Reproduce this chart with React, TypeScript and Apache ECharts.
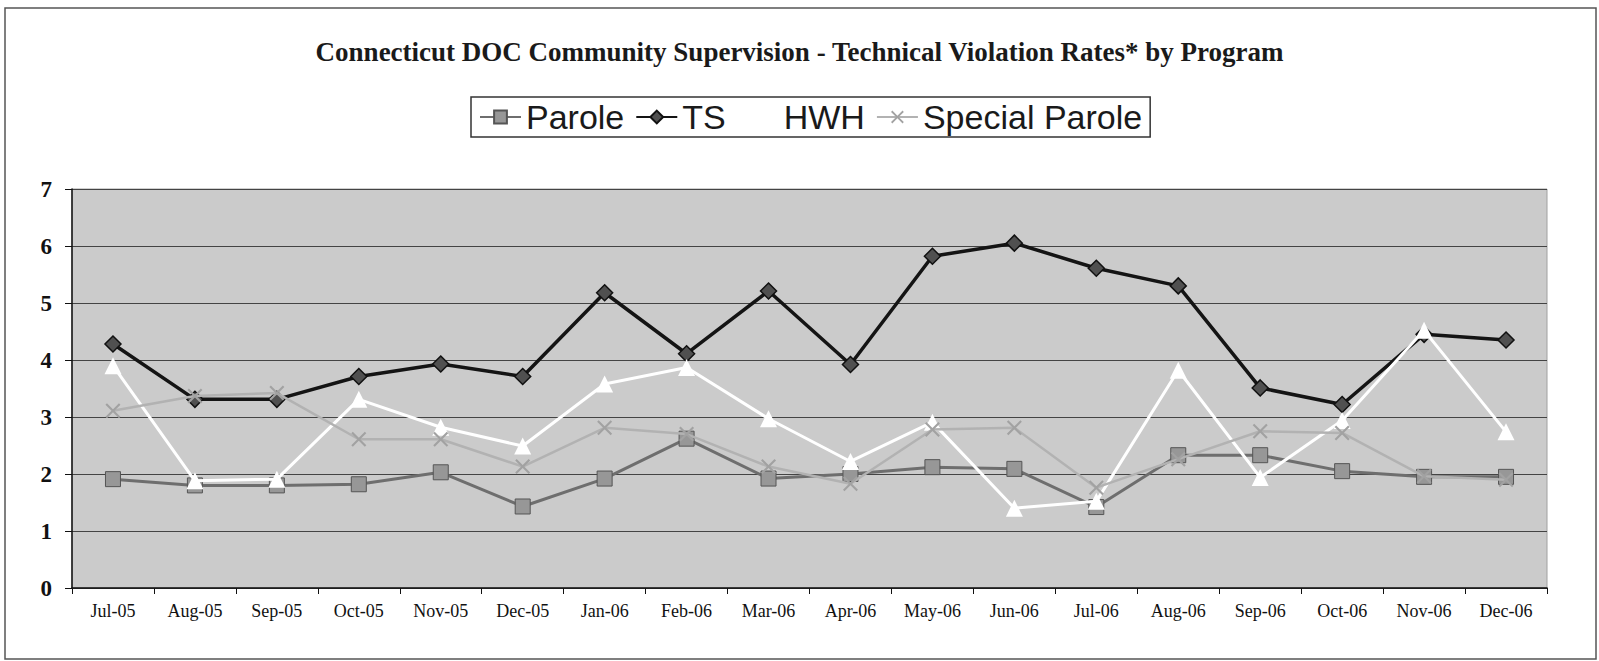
import React, { useEffect, useRef } from "react";
import * as echarts from "echarts";

const categories = [
  "Jul-05", "Aug-05", "Sep-05", "Oct-05", "Nov-05", "Dec-05",
  "Jan-06", "Feb-06", "Mar-06", "Apr-06", "May-06", "Jun-06",
  "Jul-06", "Aug-06", "Sep-06", "Oct-06", "Nov-06", "Dec-06",
];
const parole = [1.91, 1.8, 1.8, 1.82, 2.03, 1.43, 1.92, 2.62, 1.92, 2.0, 2.12, 2.09, 1.42, 2.33, 2.33, 2.05, 1.95, 1.95];
const ts = [4.28, 3.31, 3.31, 3.71, 3.93, 3.71, 5.18, 4.11, 5.21, 3.92, 5.82, 6.05, 5.61, 5.3, 3.51, 3.22, 4.45, 4.35];
const hwh = [3.9, 1.88, 1.91, 3.31, 2.82, 2.49, 3.58, 3.87, 2.97, 2.22, 2.91, 1.4, 1.52, 3.82, 1.94, 2.94, 4.52, 2.74];
const specialParole = [3.11, 3.37, 3.42, 2.61, 2.61, 2.13, 2.81, 2.7, 2.13, 1.83, 2.78, 2.81, 1.76, 2.26, 2.75, 2.72, 1.96, 1.9];
const yTicks = [0, 1, 2, 3, 4, 5, 6, 7];

const titleText = "Connecticut DOC Community Supervision - Technical Violation Rates* by Program";

const X_SYMBOL = "path://M0,1 L1,0 L5,4 L9,0 L10,1 L6,5 L10,9 L9,10 L5,6 L1,10 L0,9 L4,5 Z";

export default function App() {
  const ref = useRef<HTMLDivElement>(null);
  useEffect(() => {
    if (!ref.current) return;
    const chart = echarts.init(ref.current, null, { renderer: "svg" });
    chart.setOption({
      animation: false,
      backgroundColor: "#ffffff",
      title: {
        text: titleText,
        left: "center",
        top: 33,
        textStyle: {
          fontFamily: "Liberation Serif",
          fontWeight: "bold",
          fontSize: 27,
          color: "#1a1a1a",
        },
      },
      legend: {
        left: 471,
        top: 97,
        padding: [3, 8, 3, 8],
        itemGap: 11,
        itemWidth: 41,
        itemHeight: 16,
        borderColor: "#333",
        borderWidth: 1.5,
        borderRadius: 0,
        textStyle: {
          fontFamily: "Liberation Sans",
          fontSize: 34,
          color: "#1a1a1a",
        },
        data: ["Parole", "TS", "HWH", "Special Parole"],
      },
      graphic: [
        {
          type: "rect",
          shape: { x: 5, y: 8, width: 1591, height: 651 },
          style: { fill: "none", stroke: "#555", lineWidth: 1.5 },
          silent: true,
        },
      ],
      grid: {
        left: 72,
        right: 52,
        top: 189,
        bottom: 73,
        show: true,
        backgroundColor: "#cbcbcb",
        borderColor: "#a0a0a0",
        borderWidth: 1,
      },
      xAxis: {
        type: "category",
        data: categories,
        boundaryGap: true,
        axisLine: { show: true, lineStyle: { color: "#111", width: 1.5 } },
        axisTick: { show: true, alignWithLabel: false, length: 6, lineStyle: { color: "#111" } },
        axisLabel: {
          fontFamily: "Liberation Serif",
          fontSize: 18,
          color: "#111",
          margin: 14,
          interval: 0,
        },
        splitLine: { show: false },
      },
      yAxis: {
        type: "value",
        min: yTicks[0],
        max: yTicks[yTicks.length - 1],
        interval: 1,
        axisLine: { show: true, lineStyle: { color: "#111", width: 1.5 } },
        axisTick: { show: true, length: 7, lineStyle: { color: "#111" } },
        axisLabel: {
          fontFamily: "Liberation Serif",
          fontWeight: "bold",
          fontSize: 23,
          color: "#111",
          margin: 20,
        },
        splitLine: { show: true, lineStyle: { color: "#444", width: 1 } },
      },
      series: [
        {
          name: "Parole",
          type: "line",
          data: parole,
          symbol: "rect",
          symbolSize: 15,
          lineStyle: { color: "#6e6e6e", width: 3 },
          itemStyle: { color: "#979797", borderColor: "#555", borderWidth: 1 },
          z: 2,
        },
        {
          name: "TS",
          type: "line",
          data: ts,
          symbol: "diamond",
          symbolSize: 16,
          lineStyle: { color: "#141414", width: 3.5 },
          itemStyle: { color: "#505050", borderColor: "#111", borderWidth: 1.5 },
          z: 3,
        },
        {
          name: "HWH",
          type: "line",
          data: hwh,
          symbol: "triangle",
          symbolSize: 17,
          lineStyle: { color: "#ffffff", width: 3 },
          itemStyle: { color: "#ffffff", borderWidth: 0 },
          z: 4,
        },
        {
          name: "Special Parole",
          type: "line",
          data: specialParole,
          symbol: X_SYMBOL,
          symbolSize: 15,
          lineStyle: { color: "#b2b2b2", width: 2.5 },
          itemStyle: { color: "#a2a2a2" },
          z: 5,
        },
      ],
    });
    return () => chart.dispose();
  }, []);
  return (
    <div
      ref={ref}
      style={{ position: "fixed", left: 0, top: 0, width: 1599, height: 661 }}
    />
  );
}
